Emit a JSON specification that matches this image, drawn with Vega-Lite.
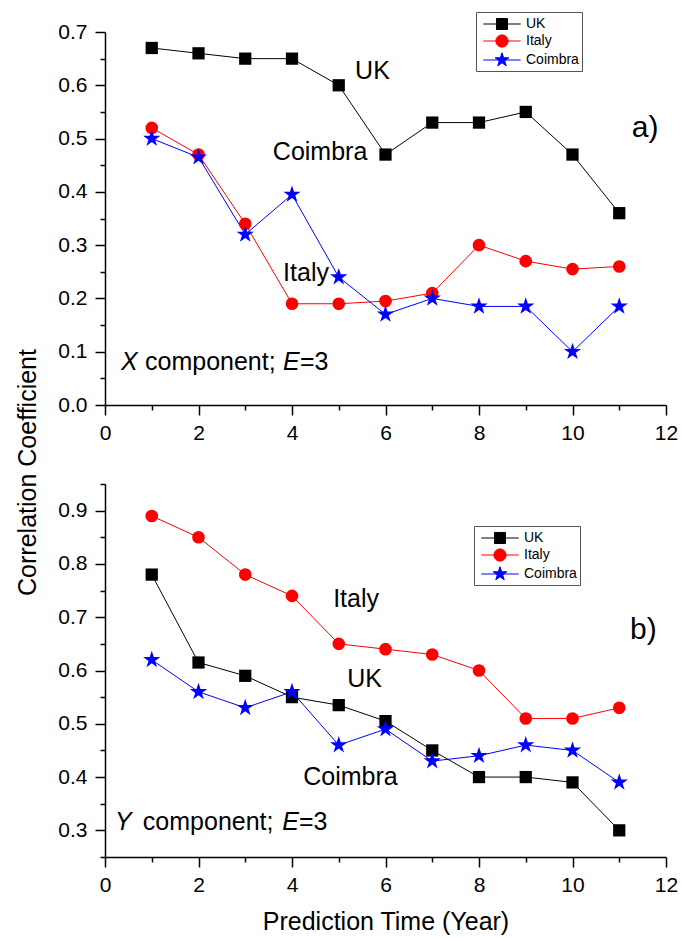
{
  "$schema": "https://vega.github.io/schema/vega-lite/v6.json",
  "padding": {"left": 15, "top": 11, "right": 3, "bottom": 5},
  "bounds": "flush",
  "spacing": 79,
  "config": {
    "font": "Liberation Sans",
    "view": {"stroke": null},
    "axis": {
      "domainColor": "#000", "domainWidth": 1.5, "tickColor": "#000", "tickWidth": 1.5,
      "labelColor": "#000", "labelFontSize": 21, "labelFont": "Liberation Sans",
      "grid": false, "labelOverlap": false, "labelFlush": false, "tickCount": 50,
      "titleFont": "Liberation Sans", "titleFontSize": 25, "titleFontWeight": "normal", "titleColor": "#000"
    }
  },
  "datasets": {
    "a": [
      {"t": 1, "s": "UK", "v": 0.67}, {"t": 2, "s": "UK", "v": 0.66}, {"t": 3, "s": "UK", "v": 0.65}, {"t": 4, "s": "UK", "v": 0.65},
      {"t": 5, "s": "UK", "v": 0.60}, {"t": 6, "s": "UK", "v": 0.47}, {"t": 7, "s": "UK", "v": 0.53}, {"t": 8, "s": "UK", "v": 0.53},
      {"t": 9, "s": "UK", "v": 0.55}, {"t": 10, "s": "UK", "v": 0.47}, {"t": 11, "s": "UK", "v": 0.36},
      {"t": 1, "s": "Italy", "v": 0.52}, {"t": 2, "s": "Italy", "v": 0.47}, {"t": 3, "s": "Italy", "v": 0.34}, {"t": 4, "s": "Italy", "v": 0.19},
      {"t": 5, "s": "Italy", "v": 0.19}, {"t": 6, "s": "Italy", "v": 0.195}, {"t": 7, "s": "Italy", "v": 0.21}, {"t": 8, "s": "Italy", "v": 0.30},
      {"t": 9, "s": "Italy", "v": 0.27}, {"t": 10, "s": "Italy", "v": 0.255}, {"t": 11, "s": "Italy", "v": 0.26},
      {"t": 1, "s": "Coimbra", "v": 0.50}, {"t": 2, "s": "Coimbra", "v": 0.465}, {"t": 3, "s": "Coimbra", "v": 0.32}, {"t": 4, "s": "Coimbra", "v": 0.395},
      {"t": 5, "s": "Coimbra", "v": 0.24}, {"t": 6, "s": "Coimbra", "v": 0.17}, {"t": 7, "s": "Coimbra", "v": 0.20}, {"t": 8, "s": "Coimbra", "v": 0.185},
      {"t": 9, "s": "Coimbra", "v": 0.185}, {"t": 10, "s": "Coimbra", "v": 0.10}, {"t": 11, "s": "Coimbra", "v": 0.185}
    ],
    "b": [
      {"t": 1, "s": "UK", "v": 0.78}, {"t": 2, "s": "UK", "v": 0.615}, {"t": 3, "s": "UK", "v": 0.59}, {"t": 4, "s": "UK", "v": 0.55},
      {"t": 5, "s": "UK", "v": 0.535}, {"t": 6, "s": "UK", "v": 0.505}, {"t": 7, "s": "UK", "v": 0.45}, {"t": 8, "s": "UK", "v": 0.40},
      {"t": 9, "s": "UK", "v": 0.40}, {"t": 10, "s": "UK", "v": 0.39}, {"t": 11, "s": "UK", "v": 0.30},
      {"t": 1, "s": "Italy", "v": 0.89}, {"t": 2, "s": "Italy", "v": 0.85}, {"t": 3, "s": "Italy", "v": 0.78}, {"t": 4, "s": "Italy", "v": 0.74},
      {"t": 5, "s": "Italy", "v": 0.65}, {"t": 6, "s": "Italy", "v": 0.64}, {"t": 7, "s": "Italy", "v": 0.63}, {"t": 8, "s": "Italy", "v": 0.60},
      {"t": 9, "s": "Italy", "v": 0.51}, {"t": 10, "s": "Italy", "v": 0.51}, {"t": 11, "s": "Italy", "v": 0.53},
      {"t": 1, "s": "Coimbra", "v": 0.62}, {"t": 2, "s": "Coimbra", "v": 0.56}, {"t": 3, "s": "Coimbra", "v": 0.53}, {"t": 4, "s": "Coimbra", "v": 0.56},
      {"t": 5, "s": "Coimbra", "v": 0.46}, {"t": 6, "s": "Coimbra", "v": 0.49}, {"t": 7, "s": "Coimbra", "v": 0.43}, {"t": 8, "s": "Coimbra", "v": 0.44},
      {"t": 9, "s": "Coimbra", "v": 0.46}, {"t": 10, "s": "Coimbra", "v": 0.45}, {"t": 11, "s": "Coimbra", "v": 0.39}
    ]
  },
  "resolve": {
    "scale": {"x": "independent", "y": "independent", "color": "independent", "fill": "independent", "stroke": "independent", "shape": "independent"},
    "legend": {"fill": "independent", "stroke": "independent", "shape": "independent"}
  },
  "vconcat": [
    {
      "width": 561, "height": 373,
      "layer": [
        {
          "data": {"name": "a"},
          "mark": {"type": "line", "strokeWidth": 1},
          "encoding": {
            "x": {"field": "t", "type": "quantitative", "scale": {"domain": [0, 12], "nice": false},
              "axis": {"values": [0,1,2,3,4,5,6,7,8,9,10,11,12], "labelExpr": "datum.value % 2 == 0 ? format(datum.value, 'd') : ''",
                "tickSize": {"condition": {"test": "datum.value % 2 == 1", "value": 5}, "value": 10}, "labelPadding": 7, "title": null}},
            "y": {"field": "v", "type": "quantitative", "scale": {"domain": [0, 0.7], "nice": false, "zero": false},
              "axis": {"values": [0,0.05,0.1,0.15,0.2,0.25,0.3,0.35,0.4,0.45,0.5,0.55,0.6,0.65,0.7],
                "labelExpr": "abs(datum.value*10 - round(datum.value*10)) < 0.001 ? format(datum.value, '.1f') : ''",
                "tickSize": {"condition": {"test": "abs(datum.value*10 - round(datum.value*10)) > 0.001", "value": 5}, "value": 10},
                "labelPadding": 8, "title": "Correlation Coefficient", "titleX": -78, "titleY": 440, "titleAngle": 270,
                "titleAlign": "center", "titleBaseline": "middle"}},
            "color": {"field": "s", "type": "nominal", "scale": {"domain": ["Coimbra", "Italy", "UK"], "range": ["#0000ff", "#ff0000", "#000000"]}, "legend": null}
          }
        },
        {
          "data": {"name": "a"},
          "transform": [{"filter": "datum.s === 'UK'"}],
          "mark": {"type": "point", "shape": "square", "filled": true, "color": "#000000", "size": 150, "opacity": 1},
          "encoding": {
            "x": {"field": "t", "type": "quantitative", "scale": {"domain": [0, 12], "nice": false}},
            "y": {"field": "v", "type": "quantitative", "scale": {"domain": [0, 0.7], "nice": false, "zero": false}}
          }
        },
        {
          "data": {"name": "a"},
          "transform": [{"filter": "datum.s === 'Italy'"}],
          "mark": {"type": "point", "shape": "circle", "filled": true, "color": "#ff0000", "size": 160, "opacity": 1},
          "encoding": {
            "x": {"field": "t", "type": "quantitative", "scale": {"domain": [0, 12], "nice": false}},
            "y": {"field": "v", "type": "quantitative", "scale": {"domain": [0, 0.7], "nice": false, "zero": false}}
          }
        },
        {
          "data": {"name": "a"},
          "transform": [{"filter": "datum.s === 'Coimbra'"}],
          "mark": {"type": "point", "shape": "M0,-1L0.2245,-0.309L0.951,-0.309L0.363,0.118L0.588,0.809L0,0.382L-0.588,0.809L-0.363,0.118L-0.951,-0.309L-0.2245,-0.309Z", "filled": true, "color": "#0000ff", "size": 330, "opacity": 1},
          "encoding": {
            "x": {"field": "t", "type": "quantitative", "scale": {"domain": [0, 12], "nice": false}},
            "y": {"field": "v", "type": "quantitative", "scale": {"domain": [0, 0.7], "nice": false, "zero": false}}
          }
        },
        {
          "data": {"name": "a"},
          "transform": [{"filter": "datum.t > 100"}],
          "mark": {"type": "point", "filled": true},
          "encoding": {
            "x": {"field": "t", "type": "quantitative", "scale": {"domain": [0, 12], "nice": false}},
            "y": {"field": "v", "type": "quantitative", "scale": {"domain": [0, 0.7], "nice": false, "zero": false}},
            "fill": {"field": "s", "type": "nominal", "scale": {"domain": ["UK", "Italy", "Coimbra"], "range": ["#000000", "#ff0000", "#0000ff"]},
              "legend": {"title": null, "orient": "none", "legendX": 371, "legendY": -20, "symbolSize": 289, "symbolStrokeWidth": 1, "symbolOffset": 14, "labelOffset": 15, "labelFontSize": 14, "labelColor": "#000", "padding": 3, "rowPadding": 0, "strokeColor": "#555", "fillColor": "#fff", "symbolOpacity": 1}},
            "stroke": {"field": "s", "type": "nominal", "scale": {"domain": ["UK", "Italy", "Coimbra"], "range": ["#000000", "#ff0000", "#0000ff"]},
              "legend": {"title": null, "orient": "none", "legendX": 371, "legendY": -20, "symbolSize": 289, "symbolStrokeWidth": 1, "symbolOffset": 14, "labelOffset": 15, "labelFontSize": 14, "labelColor": "#000", "padding": 3, "rowPadding": 0, "strokeColor": "#555", "fillColor": "#fff", "symbolOpacity": 1}},
            "shape": {"field": "s", "type": "nominal", "scale": {"domain": ["UK", "Italy", "Coimbra"], "range": [
                "M-2.2,0H2.2M-0.65,-0.65H0.65V0.65H-0.65Z",
                "M-2.2,0H2.2M-0.72,0A0.72,0.72 0 1,0 0.72,0A0.72,0.72 0 1,0 -0.72,0Z",
                "M-2.2,0H2.2M0,-0.85L0.191,-0.263L0.808,-0.263L0.309,0.1L0.5,0.688L0,0.325L-0.5,0.688L-0.309,0.1L-0.808,-0.263L-0.191,-0.263Z"]},
              "legend": {"title": null, "orient": "none", "legendX": 371, "legendY": -20, "symbolSize": 289, "symbolStrokeWidth": 1, "symbolOffset": 14, "labelOffset": 15, "labelFontSize": 14, "labelColor": "#000", "padding": 3, "rowPadding": 0, "strokeColor": "#555", "fillColor": "#fff", "symbolOpacity": 1}}
          }
        },
        {
          "data": {"values": [
            {"t": 5.35, "v": 0.612, "label": "UK"},
            {"t": 3.59, "v": 0.46, "label": "Coimbra"},
            {"t": 3.81, "v": 0.233, "label": "Italy"},
            {"t": 0.856, "v": 0.066, "label": "component;"},
            {"t": 4.17, "v": 0.066, "label": "=3"}
          ]},
          "mark": {"type": "text", "align": "left", "baseline": "alphabetic", "fontSize": 25, "color": "#000"},
          "encoding": {
            "x": {"field": "t", "type": "quantitative", "scale": {"domain": [0, 12], "nice": false}},
            "y": {"field": "v", "type": "quantitative", "scale": {"domain": [0, 0.7], "nice": false, "zero": false}},
            "text": {"field": "label"}
          }
        },
        {
          "data": {"values": [
            {"t": 0.342, "v": 0.066, "label": "X"},
            {"t": 3.81, "v": 0.066, "label": "E"}
          ]},
          "mark": {"type": "text", "align": "left", "baseline": "alphabetic", "fontSize": 25, "fontStyle": "italic", "color": "#000"},
          "encoding": {
            "x": {"field": "t", "type": "quantitative", "scale": {"domain": [0, 12], "nice": false}},
            "y": {"field": "v", "type": "quantitative", "scale": {"domain": [0, 0.7], "nice": false, "zero": false}},
            "text": {"field": "label"}
          }
        },
        {
          "data": {"values": [{"t": 11.27, "v": 0.503, "label": "a)"}]},
          "mark": {"type": "text", "align": "left", "baseline": "alphabetic", "fontSize": 30, "color": "#000"},
          "encoding": {
            "x": {"field": "t", "type": "quantitative", "scale": {"domain": [0, 12], "nice": false}},
            "y": {"field": "v", "type": "quantitative", "scale": {"domain": [0, 0.7], "nice": false, "zero": false}},
            "text": {"field": "label"}
          }
        }
      ]
    },
    {
      "width": 561, "height": 373,
      "layer": [
        {
          "data": {"name": "b"},
          "mark": {"type": "line", "strokeWidth": 1},
          "encoding": {
            "x": {"field": "t", "type": "quantitative", "scale": {"domain": [0, 12], "nice": false},
              "axis": {"values": [0,1,2,3,4,5,6,7,8,9,10,11,12], "labelExpr": "datum.value % 2 == 0 ? format(datum.value, 'd') : ''",
                "tickSize": {"condition": {"test": "datum.value % 2 == 1", "value": 5}, "value": 10}, "labelPadding": 7,
                "title": "Prediction Time (Year)", "titlePadding": 14}},
            "y": {"field": "v", "type": "quantitative", "scale": {"domain": [0.25, 0.95], "nice": false, "zero": false},
              "axis": {"values": [0.25,0.3,0.35,0.4,0.45,0.5,0.55,0.6,0.65,0.7,0.75,0.8,0.85,0.9,0.95],
                "labelExpr": "abs(datum.value*10 - round(datum.value*10)) < 0.001 ? format(datum.value, '.1f') : ''",
                "tickSize": {"condition": {"test": "abs(datum.value*10 - round(datum.value*10)) > 0.001", "value": 5}, "value": 10},
                "labelPadding": 8, "title": null}},
            "color": {"field": "s", "type": "nominal", "scale": {"domain": ["Coimbra", "Italy", "UK"], "range": ["#0000ff", "#ff0000", "#000000"]}, "legend": null}
          }
        },
        {
          "data": {"name": "b"},
          "transform": [{"filter": "datum.s === 'UK'"}],
          "mark": {"type": "point", "shape": "square", "filled": true, "color": "#000000", "size": 150, "opacity": 1},
          "encoding": {
            "x": {"field": "t", "type": "quantitative", "scale": {"domain": [0, 12], "nice": false}},
            "y": {"field": "v", "type": "quantitative", "scale": {"domain": [0.25, 0.95], "nice": false, "zero": false}}
          }
        },
        {
          "data": {"name": "b"},
          "transform": [{"filter": "datum.s === 'Italy'"}],
          "mark": {"type": "point", "shape": "circle", "filled": true, "color": "#ff0000", "size": 160, "opacity": 1},
          "encoding": {
            "x": {"field": "t", "type": "quantitative", "scale": {"domain": [0, 12], "nice": false}},
            "y": {"field": "v", "type": "quantitative", "scale": {"domain": [0.25, 0.95], "nice": false, "zero": false}}
          }
        },
        {
          "data": {"name": "b"},
          "transform": [{"filter": "datum.s === 'Coimbra'"}],
          "mark": {"type": "point", "shape": "M0,-1L0.2245,-0.309L0.951,-0.309L0.363,0.118L0.588,0.809L0,0.382L-0.588,0.809L-0.363,0.118L-0.951,-0.309L-0.2245,-0.309Z", "filled": true, "color": "#0000ff", "size": 330, "opacity": 1},
          "encoding": {
            "x": {"field": "t", "type": "quantitative", "scale": {"domain": [0, 12], "nice": false}},
            "y": {"field": "v", "type": "quantitative", "scale": {"domain": [0.25, 0.95], "nice": false, "zero": false}}
          }
        },
        {
          "data": {"name": "b"},
          "transform": [{"filter": "datum.t > 100"}],
          "mark": {"type": "point", "filled": true},
          "encoding": {
            "x": {"field": "t", "type": "quantitative", "scale": {"domain": [0, 12], "nice": false}},
            "y": {"field": "v", "type": "quantitative", "scale": {"domain": [0.25, 0.95], "nice": false, "zero": false}},
            "fill": {"field": "s", "type": "nominal", "scale": {"domain": ["UK", "Italy", "Coimbra"], "range": ["#000000", "#ff0000", "#0000ff"]},
              "legend": {"title": null, "orient": "none", "legendX": 369, "legendY": 42, "symbolSize": 289, "symbolStrokeWidth": 1, "symbolOffset": 14, "labelOffset": 15, "labelFontSize": 14, "labelColor": "#000", "padding": 3, "rowPadding": 0, "strokeColor": "#555", "fillColor": "#fff", "symbolOpacity": 1}},
            "stroke": {"field": "s", "type": "nominal", "scale": {"domain": ["UK", "Italy", "Coimbra"], "range": ["#000000", "#ff0000", "#0000ff"]},
              "legend": {"title": null, "orient": "none", "legendX": 369, "legendY": 42, "symbolSize": 289, "symbolStrokeWidth": 1, "symbolOffset": 14, "labelOffset": 15, "labelFontSize": 14, "labelColor": "#000", "padding": 3, "rowPadding": 0, "strokeColor": "#555", "fillColor": "#fff", "symbolOpacity": 1}},
            "shape": {"field": "s", "type": "nominal", "scale": {"domain": ["UK", "Italy", "Coimbra"], "range": [
                "M-2.2,0H2.2M-0.65,-0.65H0.65V0.65H-0.65Z",
                "M-2.2,0H2.2M-0.72,0A0.72,0.72 0 1,0 0.72,0A0.72,0.72 0 1,0 -0.72,0Z",
                "M-2.2,0H2.2M0,-0.85L0.191,-0.263L0.808,-0.263L0.309,0.1L0.5,0.688L0,0.325L-0.5,0.688L-0.309,0.1L-0.808,-0.263L-0.191,-0.263Z"]},
              "legend": {"title": null, "orient": "none", "legendX": 369, "legendY": 42, "symbolSize": 289, "symbolStrokeWidth": 1, "symbolOffset": 14, "labelOffset": 15, "labelFontSize": 14, "labelColor": "#000", "padding": 3, "rowPadding": 0, "strokeColor": "#555", "fillColor": "#fff", "symbolOpacity": 1}}
          }
        },
        {
          "data": {"values": [
            {"t": 4.88, "v": 0.719, "label": "Italy"},
            {"t": 5.18, "v": 0.569, "label": "UK"},
            {"t": 4.24, "v": 0.385, "label": "Coimbra"},
            {"t": 0.81, "v": 0.301, "label": "component;"},
            {"t": 4.15, "v": 0.301, "label": "=3"}
          ]},
          "mark": {"type": "text", "align": "left", "baseline": "alphabetic", "fontSize": 25, "color": "#000"},
          "encoding": {
            "x": {"field": "t", "type": "quantitative", "scale": {"domain": [0, 12], "nice": false}},
            "y": {"field": "v", "type": "quantitative", "scale": {"domain": [0.25, 0.95], "nice": false, "zero": false}},
            "text": {"field": "label"}
          }
        },
        {
          "data": {"values": [
            {"t": 0.214, "v": 0.301, "label": "Y"},
            {"t": 3.79, "v": 0.301, "label": "E"}
          ]},
          "mark": {"type": "text", "align": "left", "baseline": "alphabetic", "fontSize": 25, "fontStyle": "italic", "color": "#000"},
          "encoding": {
            "x": {"field": "t", "type": "quantitative", "scale": {"domain": [0, 12], "nice": false}},
            "y": {"field": "v", "type": "quantitative", "scale": {"domain": [0.25, 0.95], "nice": false, "zero": false}},
            "text": {"field": "label"}
          }
        },
        {
          "data": {"values": [{"t": 11.23, "v": 0.66, "label": "b)"}]},
          "mark": {"type": "text", "align": "left", "baseline": "alphabetic", "fontSize": 30, "color": "#000"},
          "encoding": {
            "x": {"field": "t", "type": "quantitative", "scale": {"domain": [0, 12], "nice": false}},
            "y": {"field": "v", "type": "quantitative", "scale": {"domain": [0.25, 0.95], "nice": false, "zero": false}},
            "text": {"field": "label"}
          }
        }
      ]
    }
  ]
}
